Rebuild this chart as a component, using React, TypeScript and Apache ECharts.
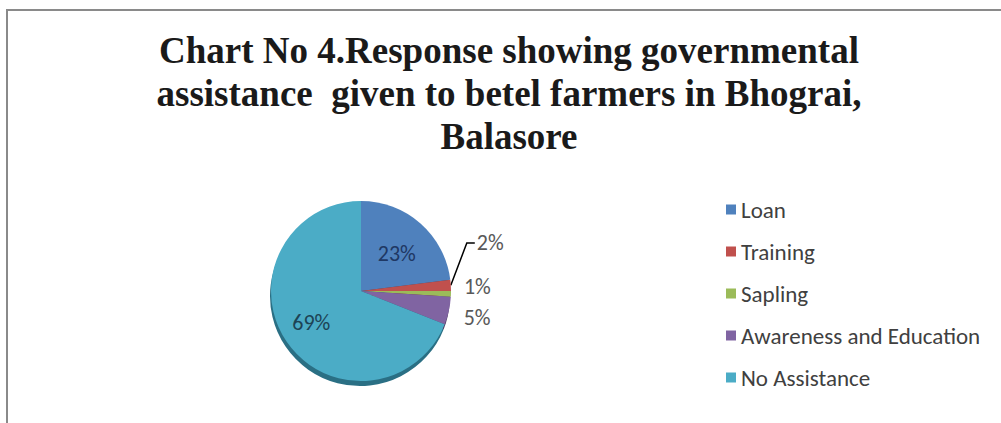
import React, { useEffect, useRef } from "react";
import * as echarts from "echarts";

const titleLines = [
  "Chart No 4.Response showing governmental",
  "assistance  given to betel farmers in Bhograi,",
  "Balasore",
];
const categories = ["Loan", "Training", "Sapling", "Awareness and Education", "No Assistance"];
const values = [23, 2, 1, 5, 69];
const colors = ["#4f81bd", "#c0504d", "#9bbb59", "#8064a2", "#4bacc6"];
const edgeColors = ["#2c4d74", "#7a2e2c", "#5f7630", "#4c3a63", "#2a6f84"];
const labelColors = ["#1f3864", "#595959", "#595959", "#595959", "#1d4355"];
const labelInside = [true, false, false, false, true];
const labelLineShown = [false, true, false, false, false];
const labelShift: [number, number][] = [[4, -1], [9, -42], [-4, -8], [-2, 6], [-10, 5]];

const labelFont = "Carlito, 'Liberation Sans Narrow', 'Liberation Sans', sans-serif";

export default function App() {
  const ref = useRef<HTMLDivElement>(null);
  useEffect(() => {
    if (!ref.current) return;
    const chart = echarts.init(ref.current, null, { renderer: "svg" });
    chart.setOption({
      animation: false,
      backgroundColor: "#ffffff",
      title: {
        text: titleLines.join("\n"),
        left: 504,
        top: 24,
        textAlign: "center",
        textStyle: {
          fontFamily: "'Liberation Serif', 'Times New Roman', serif",
          fontWeight: "bold",
          fontSize: 37,
          lineHeight: 43,
          color: "#1a1a1a",
        },
      },
      legend: {
        orient: "vertical",
        left: 721,
        top: 193,
        icon: "rect",
        itemWidth: 10,
        itemHeight: 10,
        itemGap: 19,
        data: categories,
        textStyle: {
          fontFamily: labelFont,
          fontSize: 23,
          lineHeight: 20,
          color: "#404040",
        },
      },
      graphic: [
        {
          type: "rect",
          shape: { x: 7, y: 10, width: 1010, height: 430 },
          style: { fill: "none", stroke: "#8a8a8a", lineWidth: 2 },
          silent: true,
        },
      ],
      series: [
        {
          type: "pie",
          name: "main",
          center: [361, 291],
          radius: 90,
          startAngle: 90,
          clockwise: true,
          avoidLabelOverlap: false,
          z: 3,
          data: categories.map((name, i) => ({
            name,
            value: values[i],
            itemStyle: { color: colors[i] },
            label: {
              position: labelInside[i] ? "inside" : "outside",
              color: labelColors[i],
            },
            labelLine: { show: labelLineShown[i] },
          })),
          label: {
            show: true,
            formatter: "{c}%",
            fontFamily: labelFont,
            fontSize: 22,
          },
          labelLine: {
            length: 6,
            length2: 6,
            lineStyle: { color: "#000000", width: 1.5 },
          },
          labelLayout: (params: any) => {
            const s = labelShift[params.dataIndex] || [0, 0];
            const out: any = { dx: s[0], dy: s[1] };
            const pts = params.labelLinePoints;
            if (labelLineShown[params.dataIndex] && pts && pts.length) {
              const r = params.labelRect;
              const endX = r.x + s[0] - 2;
              const endY = r.y + r.height / 2 + s[1];
              out.labelLinePoints = [pts[0], [endX - 8, endY], [endX, endY]];
            }
            return out;
          },
          emphasis: { disabled: true },
        },
        {
          type: "pie",
          name: "edge",
          center: [360, 296],
          radius: 90,
          startAngle: 90,
          clockwise: true,
          silent: true,
          z: 1,
          data: categories.map((name, i) => ({
            name,
            value: values[i],
            itemStyle: { color: edgeColors[i] },
          })),
          label: { show: false },
          labelLine: { show: false },
          emphasis: { disabled: true },
        },
      ],
    });
    return () => chart.dispose();
  }, []);
  return (
    <div
      ref={ref}
      style={{ position: "fixed", left: 0, top: 0, width: 1001, height: 423 }}
    />
  );
}
